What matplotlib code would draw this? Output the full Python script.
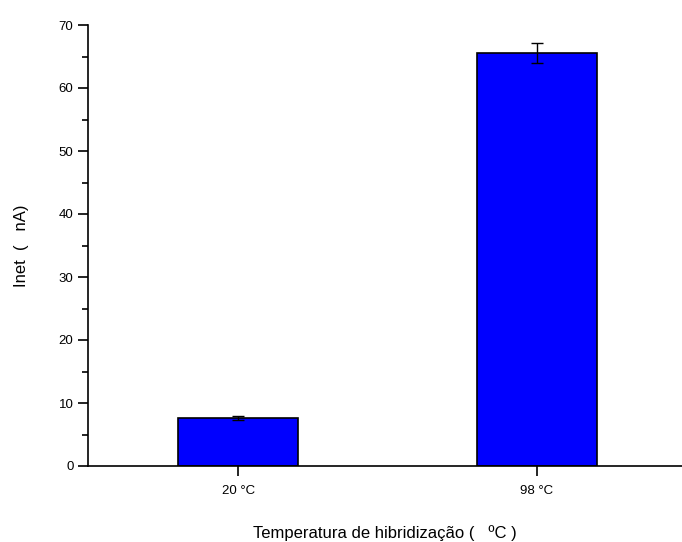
import matplotlib
matplotlib.use("Agg")
import matplotlib.pyplot as plt
from matplotlib.ticker import MultipleLocator

plt.rcParams['font.family'] = ['Liberation Sans', 'DejaVu Sans']

categories = ["20 °C", "98 °C"]
values = [7.6, 65.6]
errors = [0.3, 1.6]
positions = [1, 2]

fig = plt.figure(figsize=(6.82, 5.42), dpi=100)
ax = fig.add_axes([88/682, 1-466/542, 1-88/682, (466-25)/542])

ax.bar(positions, values, width=0.4, color="#0000ff", edgecolor="black", linewidth=1.2, zorder=2)
ax.errorbar(positions, values, yerr=errors, fmt="none", ecolor="black",
            elinewidth=1, capsize=4, capthick=1, zorder=3)

ax.set_xlim(0.498, 2.485)
ax.set_ylim(0, 70)
ax.set_xticks(positions)
ax.set_xticklabels(categories, fontsize=9.5)
ax.yaxis.set_major_locator(MultipleLocator(10))
ax.yaxis.set_minor_locator(MultipleLocator(5))
ax.tick_params(axis='y', which='major', direction='out', length=7, width=1.2, labelsize=9.5)
ax.tick_params(axis='y', which='minor', direction='out', length=4, width=1.2)
ax.tick_params(axis='x', which='major', direction='out', length=7, width=1.2, pad=7)

for side in ("top", "right"):
    ax.spines[side].set_visible(False)
for side in ("left", "bottom"):
    ax.spines[side].set_linewidth(1.2)

ax.set_ylabel("Inet  (   nA)", fontsize=12, labelpad=21)
ax.set_xlabel("Temperatura de hibridização (   ºC )", fontsize=12, labelpad=20)

fig.savefig("out.png", dpi=100)
